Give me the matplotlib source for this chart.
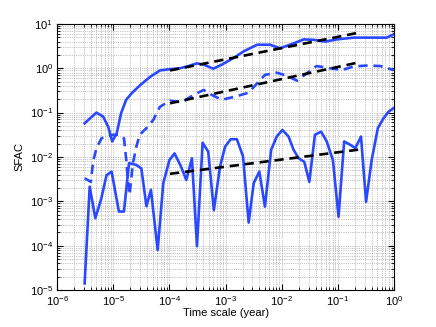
import numpy as np
import matplotlib
matplotlib.use("Agg")
import matplotlib.pyplot as plt
from matplotlib.ticker import NullFormatter

plt.rcParams['font.family'] = ['Liberation Sans', 'DejaVu Sans']

# values, as log10 exponents
top_lx = [-5.51, -5.30, -5.18, -5.09, -5.02, -4.94, -4.86, -4.77, -4.67, -4.52, -4.34, -4.17,
          -3.99, -3.81, -3.66, -3.51, -3.39, -3.22, -3.07, -2.86, -2.68, -2.44, -2.21, -2.03,
          -1.79, -1.61, -1.43, -1.23, -1.02, -0.72, -0.37, -0.13, 0.0]
top_ly = [-1.24, -1.00, -1.09, -1.32, -1.65, -1.47, -1.01, -0.71, -0.56, -0.38, -0.19, -0.05,
          -0.02, 0.00, 0.05, 0.11, 0.08, -0.01, 0.08, 0.23, 0.38, 0.53, 0.53, 0.45,
          0.56, 0.65, 0.64, 0.60, 0.65, 0.69, 0.69, 0.69, 0.77]

mid_lx = [-5.51, -5.40, -5.36, -5.30, -5.21, -5.10, -5.00, -4.90, -4.81, -4.77, -4.74, -4.71,
          -4.65, -4.59, -4.53, -4.41, -4.29, -4.17, -3.99, -3.78, -3.57, -3.39, -3.25, -3.07,
          -2.83, -2.59, -2.44, -2.30, -2.09, -1.91, -1.73, -1.55, -1.38, -1.14, -0.93, -0.72,
          -0.49, -0.25, -0.01]
mid_ly = [-2.48, -2.56, -2.11, -1.80, -1.58, -1.53, -1.50, -1.50, -1.58, -2.05, -2.55, -2.85,
          -2.14, -1.77, -1.50, -1.35, -1.17, -0.87, -0.73, -0.77, -0.60, -0.49, -0.60, -0.71,
          -0.64, -0.55, -0.34, -0.15, -0.10, -0.17, -0.28, -0.11, 0.05, 0.00, -0.04, 0.04,
          0.06, 0.05, -0.04]

low_lx = [-5.51, -5.42, -5.32, -5.22, -5.12, -5.03, -4.90, -4.81, -4.72, -4.59, -4.50, -4.41,
          -4.33, -4.21, -4.11, -4.00, -3.91, -3.80, -3.70, -3.60, -3.51, -3.41, -3.31, -3.21,
          -3.10, -3.01, -2.91, -2.80, -2.69, -2.59, -2.50, -2.40, -2.30, -2.19, -2.09, -1.99,
          -1.88, -1.79, -1.70, -1.60, -1.51, -1.41, -1.30, -1.20, -1.09, -0.99, -0.89, -0.79,
          -0.69, -0.59, -0.50, -0.40, -0.29, -0.19, -0.10, -0.01]
low_ly = [-4.85, -2.67, -3.38, -2.97, -2.41, -2.33, -3.23, -3.23, -2.14, -2.18, -2.26, -3.11,
          -2.74, -4.10, -2.59, -2.07, -1.92, -2.20, -2.52, -2.03, -4.01, -1.68, -1.88, -3.20,
          -2.22, -1.77, -1.60, -1.60, -1.99, -3.48, -2.59, -2.33, -3.12, -1.84, -1.54, -1.39,
          -1.54, -1.84, -2.03, -2.11, -2.56, -1.50, -1.43, -1.65, -2.07, -3.35, -1.65, -1.72,
          -1.80, -1.54, -3.01, -2.07, -1.35, -1.13, -0.98, -0.90]

# fitted power laws: (start exponent, end exponent) in x and y
fit_lx = [-3.99, -0.60]
fit_top = [-0.05, 0.81]
fit_mid = [-0.79, 0.14]
fit_low = [-2.38, -1.83]

blue = '#2a48ff'

fig = plt.figure(figsize=(4.36, 3.27), dpi=100)
ax = fig.add_axes([0.131, 0.113, 0.773, 0.814])

p = lambda v: 10 ** np.array(v)
ax.loglog(p(top_lx), p(top_ly), '-', color=blue, lw=1.9)
ax.loglog(p(mid_lx), p(mid_ly), '--', color=blue, lw=1.9, dashes=(3.5, 2.2))
ax.loglog(p(low_lx), p(low_ly), '-', color=blue, lw=1.9)
for fy in (fit_top, fit_mid, fit_low):
    ax.loglog(p(fit_lx), p(fy), '--', color='k', lw=1.9, dashes=(3.5, 2.2))

ax.set_xlim(1e-6, 1)
ax.set_ylim(1e-5, 10)
ax.xaxis.set_minor_formatter(NullFormatter())
ax.yaxis.set_minor_formatter(NullFormatter())
ax.grid(True, which='both', linestyle=':', color='0.55', lw=0.5)
ax.tick_params(which='both', direction='in', top=True, right=True, labelsize=8, pad=3)
ax.tick_params(which='major', length=4)
ax.tick_params(which='minor', length=2)
for s in ax.spines.values():
    s.set_linewidth(0.8)
ax.set_xlabel('Time scale (year)', fontsize=8, labelpad=0)
ax.set_ylabel('SFAC', fontsize=8, labelpad=4)

fig.savefig('out.png', dpi=100)
